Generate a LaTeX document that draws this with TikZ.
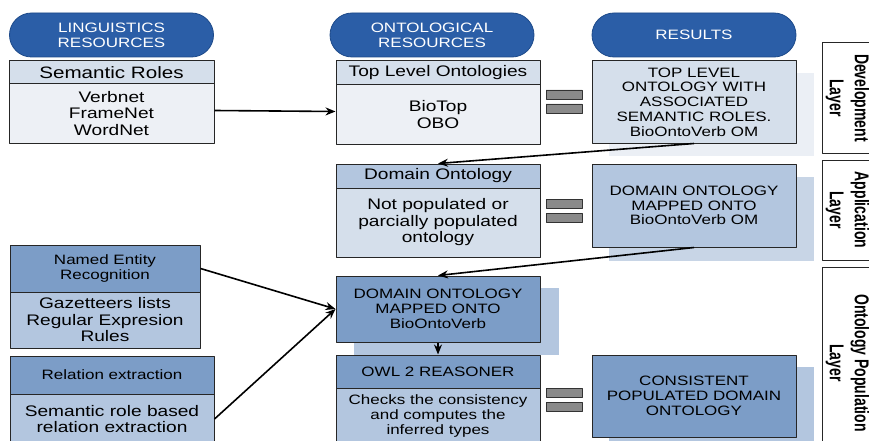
\documentclass[tikz,border=0pt]{standalone}
\usepackage{fontspec}
\setmainfont{Liberation Sans}[FakeStretch=1.25]
\newfontfamily\layerfont{Liberation Sans}[FakeStretch=0.7,BoldFeatures={FakeStretch=0.7}]
\usetikzlibrary{arrows.meta,backgrounds}
\definecolor{pillblue}{HTML}{2B5EA7}
\definecolor{pillline}{HTML}{1D4A8A}
\definecolor{paleblue}{HTML}{EDF0F5}
\definecolor{lightblue}{HTML}{D5DFEB}
\definecolor{midblue}{HTML}{B3C6DF}
\definecolor{darkblue}{HTML}{7C9DC7}
\definecolor{shadeA}{HTML}{EBEFF5}
\definecolor{shadeB}{HTML}{C8D5E6}
\definecolor{bargray}{HTML}{8A8A8A}
\begin{document}
\begin{tikzpicture}[x=1pt,y=-1pt,line join=round,>={Stealth[length=10pt,width=8pt]},thick]
	\tikzset{every node/.style={inner sep=1pt,align=center,font=\fontsize{15.3}{16.5}\selectfont},
		capstext/.style={font=\fontsize{13.6}{14.8}\selectfont},
		pill/.style={draw=pillline,fill=pillblue,text=white,rounded corners=22pt,minimum width=204pt,minimum height=44pt,capstext},
		box/.style={draw=black!85,line width=1pt,minimum width=204pt},
		layer/.style={draw=black!85,line width=1pt,rotate=-90,minimum height=51pt,font=\layerfont\bfseries\fontsize{20}{25}\selectfont},
		eqbar/.style={draw=black!80,fill=bargray,line width=0.8pt},
		link/.style={->,line width=1.6pt}}
	\useasboundingbox (0,0) rectangle (869,441);
	% column heads
	\node[pill] (hLing) at (111.5,35) {LINGUISTICS\\RESOURCES};
	\node[pill] (hOnto) at (432,35) {ONTOLOGICAL\\RESOURCES};
	\node[pill] (hRes) at (694,35) {RESULTS};
	% linguistic resources
	\node[box,fill=lightblue,minimum width=205pt,minimum height=23pt,font=\fontsize{16.5}{18}\selectfont] (semT) at (111.5,72.5) {Semantic Roles};
	\node[box,fill=paleblue,minimum width=205pt,minimum height=59pt] (semB) at (111.5,113.5) {Verbnet\\FrameNet\\WordNet};
	\node[box,fill=darkblue,minimum width=190pt,minimum height=47pt,capstext] (nerT) at (105,268.5) {Named Entity\\Recognition};
	\node[box,fill=midblue,minimum width=190pt,minimum height=56pt] (nerB) at (105,320) {Gazetteers lists\\Regular Expresion\\Rules};
	\node[box,fill=darkblue,minimum height=38pt,capstext] (relT) at (112,375) {Relation extraction};
	\node[box,fill=midblue,minimum height=50pt] (relB) at (112,419) {Semantic role based\\relation extraction};
	% ontological resources
	\node[box,fill=lightblue,minimum height=24pt] (topT) at (438,73) {Top Level Ontologies};
	\node[box,fill=paleblue,minimum height=59pt] (topB) at (438,114.5) {BioTop\\OBO};
	\node[box,fill=midblue,minimum height=24pt] (domT) at (438,176) {Domain Ontology};
	\node[box,fill=lightblue,minimum height=69pt] (domB) at (438,222.5) {Not populated or\\parcially populated\\ontology};
	\node[box,fill=darkblue,minimum height=66pt,capstext] (mapD) at (438,309) {DOMAIN ONTOLOGY\\MAPPED ONTO\\BioOntoVerb};
	\node[box,fill=darkblue,minimum height=33pt,capstext] (owlT) at (438,371.5) {OWL 2 REASONER};
	\node[box,fill=midblue,minimum height=56pt,capstext] (owlB) at (438,416) {Checks the consistency\\and computes the\\inferred types};
	% results
	\node[box,fill=lightblue,minimum height=82pt,capstext] (res1) at (694,102) {TOP LEVEL\\ONTOLOGY WITH\\ASSOCIATED\\SEMANTIC ROLES.\\BioOntoVerb OM};
	\node[box,fill=midblue,minimum height=83pt,capstext] (res2) at (694,205.5) {DOMAIN ONTOLOGY\\MAPPED ONTO\\BioOntoVerb OM};
	\node[box,fill=darkblue,minimum height=82pt,capstext] (res3) at (694,396) {CONSISTENT\\POPULATED DOMAIN\\ONTOLOGY};
	\begin{scope}[on background layer]
		\fill[white] (0,0) rectangle (869,441);
		\foreach \n/\c/\dx/\dy in {res1/shadeA/17/12.5,res2/shadeB/17/13,res3/midblue/17/12,mapD/midblue/18/12}
		\fill[\c] ([shift={(\dx,\dy)}]\n.north west) rectangle ([shift={(\dx,\dy)}]\n.south east);
	\end{scope}
	% equal signs
	\foreach \y in {90,199,388}
	\draw[eqbar] (546,\y) rectangle ++(36,9) (546,\y+14) rectangle ++(36,9);
	% layers
	\node[layer,minimum width=110pt] (devL) at (847.5,98) {Development\\Layer};
	\node[layer,minimum width=100pt] (appL) at (847.5,210) {Application\\Layer};
	\node[layer,minimum width=192pt] (popL) at (847.5,363) {Ontology Population\\Layer};
	% flow
	\draw[link] ([yshift=3pt]semB.east) -- ([yshift=3pt]topB.west);
	\draw[link] (res1.south) -- (domT.north);
	\draw[link] (res2.south) -- (mapD.north);
	\draw[link] (nerT.east) -- (mapD.west);
	\draw[link] (relB.east) -- (mapD.west);
	\draw[link] (mapD.south) -- (owlT.north);
\end{tikzpicture}
\end{document}
